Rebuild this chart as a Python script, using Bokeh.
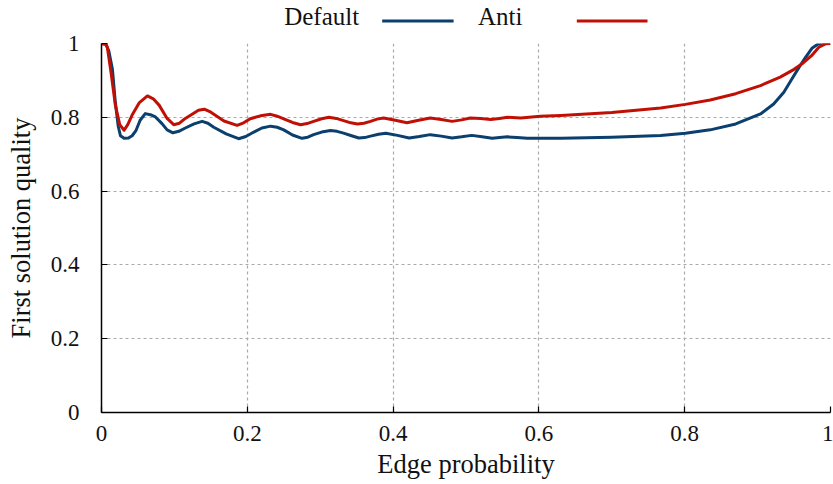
from bokeh.plotting import figure
from bokeh.layouts import column
from bokeh.models import Range1d, FixedTicker
from bokeh.core.properties import value
from bokeh.embed import file_html
from bokeh.resources import INLINE

# Edge probability vs. quality of the first solution found
default_x = [0.000, 0.006, 0.010, 0.015, 0.019, 0.023, 0.026, 0.031, 0.037, 0.042,
             0.047, 0.053, 0.060, 0.067, 0.074, 0.083, 0.090, 0.098, 0.106, 0.115,
             0.127, 0.138, 0.146, 0.154, 0.171, 0.188, 0.198, 0.209, 0.220, 0.232,
             0.241, 0.250, 0.262, 0.275, 0.283, 0.291, 0.302, 0.314, 0.323, 0.332,
             0.343, 0.353, 0.361, 0.369, 0.380, 0.390, 0.406, 0.422, 0.436, 0.451,
             0.466, 0.481, 0.494, 0.508, 0.522, 0.536, 0.546, 0.557, 0.570, 0.584,
             0.630, 0.700, 0.767, 0.801, 0.835, 0.870, 0.904, 0.922, 0.936, 0.947,
             0.957, 0.966, 0.975, 0.984, 1.000]
default_y = [1.000, 0.998, 0.980, 0.930, 0.840, 0.775, 0.750, 0.743, 0.744, 0.750,
             0.763, 0.792, 0.810, 0.807, 0.801, 0.783, 0.766, 0.758, 0.762, 0.771,
             0.782, 0.789, 0.784, 0.773, 0.755, 0.742, 0.748, 0.760, 0.771, 0.776,
             0.773, 0.766, 0.752, 0.743, 0.746, 0.753, 0.760, 0.764, 0.762, 0.757,
             0.750, 0.744, 0.745, 0.749, 0.754, 0.757, 0.751, 0.744, 0.748, 0.753,
             0.749, 0.744, 0.747, 0.751, 0.747, 0.743, 0.745, 0.747, 0.745, 0.743,
             0.743, 0.746, 0.751, 0.757, 0.766, 0.782, 0.809, 0.836, 0.868, 0.904,
             0.936, 0.963, 0.988, 1.000, 1.000]

anti_x = [0.000, 0.006, 0.008, 0.013, 0.019, 0.025, 0.031, 0.036, 0.042, 0.052,
          0.063, 0.071, 0.079, 0.090, 0.099, 0.107, 0.115, 0.133, 0.141, 0.150,
          0.168, 0.186, 0.195, 0.204, 0.218, 0.232, 0.241, 0.250, 0.262, 0.273,
          0.282, 0.291, 0.302, 0.312, 0.322, 0.332, 0.342, 0.351, 0.360, 0.369,
          0.378, 0.387, 0.403, 0.419, 0.435, 0.451, 0.466, 0.481, 0.494, 0.506,
          0.520, 0.534, 0.546, 0.557, 0.575, 0.602, 0.630, 0.700, 0.767, 0.801,
          0.835, 0.870, 0.904, 0.931, 0.950, 0.961, 0.974, 0.984, 0.993, 1.000]
anti_y = [1.000, 0.998, 0.990, 0.923, 0.833, 0.780, 0.765, 0.780, 0.806, 0.840,
          0.858, 0.850, 0.833, 0.797, 0.780, 0.784, 0.797, 0.819, 0.822, 0.814,
          0.790, 0.778, 0.785, 0.796, 0.804, 0.808, 0.803, 0.796, 0.786, 0.780,
          0.783, 0.789, 0.796, 0.800, 0.797, 0.791, 0.785, 0.782, 0.784, 0.789,
          0.795, 0.798, 0.792, 0.785, 0.792, 0.798, 0.794, 0.789, 0.793, 0.798,
          0.797, 0.794, 0.797, 0.800, 0.798, 0.803, 0.805, 0.813, 0.825, 0.835,
          0.847, 0.864, 0.886, 0.909, 0.930, 0.945, 0.967, 0.990, 0.999, 1.000]

ticks = [0, 0.2, 0.4, 0.6, 0.8, 1]
tick_labels = ["0", "0.2", "0.4", "0.6", "0.8", "1"]

series_names = ["Default", "Anti"]
series_colors = ["#0b3f6e", "#c01005"]

FONT = "Liberation Serif"
TEXT_COLOR = "#111111"

LEFT, RIGHT = 101, 3
LEGEND_H = 30

# ---- legend strip: series name followed by its line sample ----
# shares the horizontal scale of the chart below it
legend = figure(width=833, height=LEGEND_H, x_range=Range1d(0, 1),
                y_range=Range1d(LEGEND_H, 0),
                x_axis_location=None, y_axis_location=None,
                output_backend="svg", toolbar_location=None, min_border=0,
                min_border_left=LEFT, min_border_right=RIGHT)
legend.outline_line_color = None
legend.xgrid.visible = False
legend.ygrid.visible = False
legend.text(x=[0.302, 0.547], y=[15.5, 15.5], text=series_names,
            text_font=value(FONT), text_font_size="25px", text_color=TEXT_COLOR,
            text_align="center", text_baseline="middle")
legend.segment(x0=[0.385, 0.652], y0=[20.5, 20.5], x1=[0.483, 0.749], y1=[20.5, 20.5],
               line_color=series_colors, line_width=3)

# ---- main chart ----
p = figure(width=833, height=484 - LEGEND_H, x_range=Range1d(0, 1), y_range=Range1d(0, 1),
           output_backend="svg", toolbar_location=None,
           min_border_left=LEFT, min_border_right=RIGHT, min_border_top=43 - LEGEND_H,
           min_border_bottom=72)
p.outline_line_color = None

overrides = {t: s for t, s in zip(ticks, tick_labels)}
for ax in (p.xaxis[0], p.yaxis[0]):
    ax.ticker = FixedTicker(ticks=ticks)
    ax.major_label_overrides = overrides
    ax.axis_line_color = "black"
    ax.axis_line_width = 1.5
    ax.major_tick_in = 6
    ax.major_tick_out = 0
    ax.major_tick_line_color = "black"
    ax.major_tick_line_width = 1.2
    ax.minor_tick_line_color = None
    ax.major_label_text_font = FONT
    ax.major_label_text_font_size = "23px"
    ax.major_label_text_color = TEXT_COLOR
    ax.axis_label_text_font = FONT
    ax.axis_label_text_font_size = "26.5px"
    ax.axis_label_text_font_style = "normal"
    ax.axis_label_text_color = TEXT_COLOR

p.xaxis.axis_label = "Edge probability"
p.yaxis.axis_label = "First solution quality"
p.xaxis.major_label_standoff = 13
p.yaxis.major_label_standoff = 22
p.xaxis.axis_label_standoff = 5
p.yaxis.axis_label_standoff = 12

for g in (p.xgrid[0], p.ygrid[0]):
    g.ticker = FixedTicker(ticks=ticks)
    g.grid_line_color = "#aaaaaa"
    g.grid_line_dash = "3 3"
    g.grid_line_width = 1.2

p.line(default_x, default_y, line_color=series_colors[0], line_width=3,
       line_join="round")
p.line(anti_x, anti_y, line_color=series_colors[1], line_width=3,
       line_join="round")

open("out.html", "w").write(file_html(column(legend, p, spacing=0), INLINE))
